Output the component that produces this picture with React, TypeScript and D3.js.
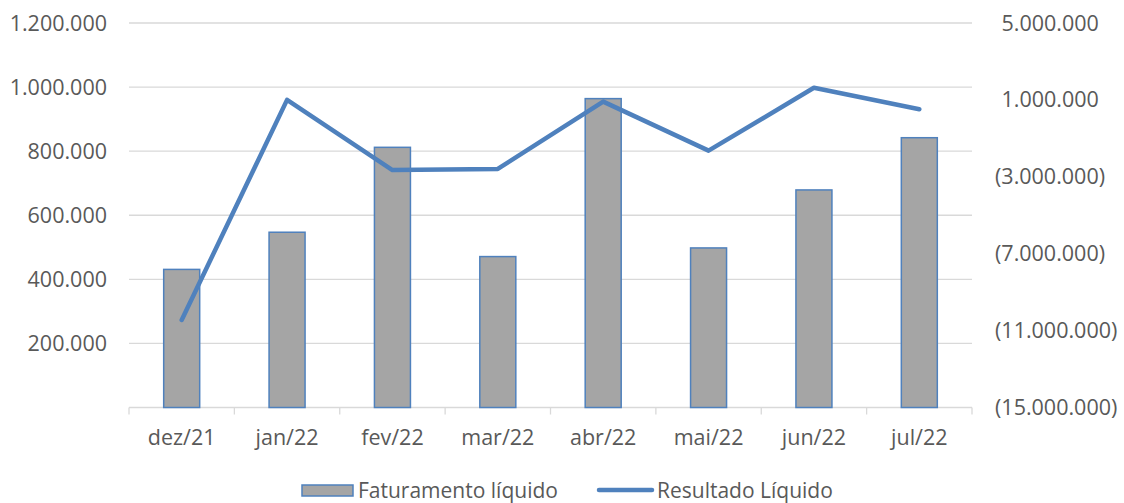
import { useRef, useEffect } from "react";
import * as d3 from "d3";

const months = ["dez/21", "jan/22", "fev/22", "mar/22", "abr/22", "mai/22", "jun/22", "jul/22"];
const faturamento = [431000, 547000, 812000, 471000, 964000, 498000, 679000, 842000];
const resultado = [-10450000, 1000000, -2650000, -2590000, 910000, -1640000, 1630000, 510000];
const leftTicks = [200000, 400000, 600000, 800000, 1000000, 1200000];
const rightTicks = [5000000, 1000000, -3000000, -7000000, -11000000, -15000000];

const W = 1124;
const H = 503;
const FONT = "'Open Sans', 'Noto Sans', sans-serif";
const TEXT = "#595959";
const GRID = "#D9D9D9";
const BLUE = "#4F81BD";
const GRAY = "#A5A5A5";

const fmt = (v: number) => d3.format(",")(Math.abs(v)).replace(/,/g, ".");

const App = () => {
  const ref = useRef<HTMLDivElement>(null);

  useEffect(() => {
    const left = 129;
    const right = 972;
    const top = 23;
    const bottom = 407.5;

    const svg = d3
      .select(ref.current)
      .html("")
      .append("svg")
      .attr("width", W)
      .attr("height", H)
      .style("position", "absolute")
      .style("left", "0px")
      .style("top", "0px")
      .style("font-family", FONT);

    const x = d3.scaleBand().domain(months).range([left, right]).paddingInner(0).paddingOuter(0);
    const y = d3.scaleLinear().domain([0, 1200000]).range([bottom, top]);
    const y2 = d3.scaleLinear().domain([-15000000, 5000000]).range([bottom, top]);

    // gridlines
    svg
      .append("g")
      .selectAll("line")
      .data(leftTicks)
      .enter()
      .append("line")
      .attr("x1", left)
      .attr("x2", right)
      .attr("y1", (d) => y(d))
      .attr("y2", (d) => y(d))
      .attr("stroke", GRID)
      .attr("stroke-width", 1.3);

    // x axis
    const xa = svg.append("g");
    xa.append("line")
      .attr("x1", left)
      .attr("x2", right)
      .attr("y1", bottom)
      .attr("y2", bottom)
      .attr("stroke", GRID)
      .attr("stroke-width", 1.3);
    const edges = months.map((m) => x(m) as number).concat([right]);
    xa.selectAll("line.tick")
      .data(edges)
      .enter()
      .append("line")
      .attr("class", "tick")
      .attr("x1", (d) => d)
      .attr("x2", (d) => d)
      .attr("y1", bottom)
      .attr("y2", bottom + 7)
      .attr("stroke", GRID)
      .attr("stroke-width", 1.3);
    xa.selectAll("text")
      .data(months)
      .enter()
      .append("text")
      .attr("x", (d) => (x(d) as number) + x.bandwidth() / 2)
      .attr("y", 445)
      .attr("text-anchor", "middle")
      .attr("fill", TEXT)
      .attr("font-size", 21.5)
      .text((d) => d);

    // left labels
    svg
      .append("g")
      .selectAll("text")
      .data(leftTicks)
      .enter()
      .append("text")
      .attr("x", 107)
      .attr("y", (d) => y(d) + 7.5)
      .attr("text-anchor", "end")
      .attr("fill", TEXT)
      .attr("font-size", 21.5)
      .text(fmt);

    // right labels
    svg
      .append("g")
      .selectAll("text")
      .data(rightTicks)
      .enter()
      .append("text")
      .attr("x", (d) => (d < 0 ? 995 : 1001.5))
      .attr("y", (d) => y2(d) + 7.5)
      .attr("fill", TEXT)
      .attr("font-size", 21.5)
      .text((d) => (d < 0 ? `(${fmt(d)})` : fmt(d)));

    // bars
    const bw = 36;
    svg
      .append("g")
      .selectAll("rect")
      .data(faturamento)
      .enter()
      .append("rect")
      .attr("x", (d, i) => (x(months[i]) as number) + x.bandwidth() / 2 - bw / 2)
      .attr("y", (d) => y(d))
      .attr("width", bw)
      .attr("height", (d) => bottom - y(d))
      .attr("fill", GRAY)
      .attr("stroke", BLUE)
      .attr("stroke-width", 1.5);

    // line
    const line = d3
      .line<number>()
      .x((d, i) => (x(months[i]) as number) + x.bandwidth() / 2)
      .y((d) => y2(d));
    svg
      .append("path")
      .datum(resultado)
      .attr("d", line)
      .attr("fill", "none")
      .attr("stroke", BLUE)
      .attr("stroke-width", 4.5)
      .attr("stroke-linejoin", "round")
      .attr("stroke-linecap", "round");

    // legend
    const lg = svg.append("g");
    lg.append("rect")
      .attr("x", 302)
      .attr("y", 485)
      .attr("width", 51)
      .attr("height", 11)
      .attr("fill", GRAY)
      .attr("stroke", BLUE)
      .attr("stroke-width", 1.5);
    lg.append("text")
      .attr("x", 358)
      .attr("y", 498)
      .attr("fill", TEXT)
      .attr("font-size", 21)
      .text("Faturamento líquido");
    lg.append("line")
      .attr("x1", 599)
      .attr("x2", 652)
      .attr("y1", 490)
      .attr("y2", 490)
      .attr("stroke", BLUE)
      .attr("stroke-width", 4.5)
      .attr("stroke-linecap", "round");
    lg.append("text")
      .attr("x", 657)
      .attr("y", 498)
      .attr("fill", TEXT)
      .attr("font-size", 21)
      .text("Resultado Líquido");
  }, []);

  return <div ref={ref} />;
};

export default App;
